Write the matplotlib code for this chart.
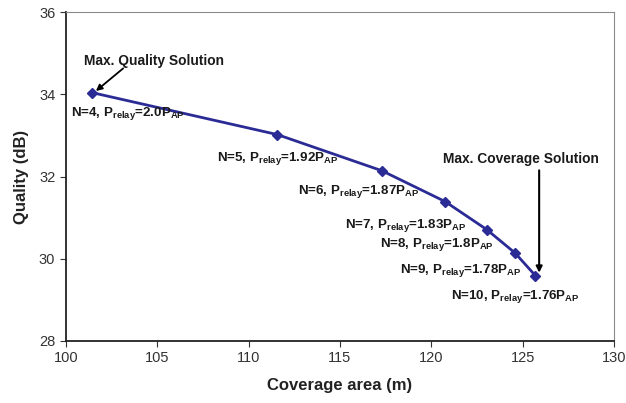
import numpy as np
import matplotlib.pyplot as plt

plt.rcParams['font.family'] = 'Liberation Sans'
plt.rcParams['mathtext.fontset'] = 'custom'
plt.rcParams['mathtext.rm'] = 'Liberation Sans:bold'
plt.rcParams['mathtext.default'] = 'rm'

# data
coverage = [101.45, 111.58, 117.3, 120.76, 123.03, 124.58, 125.69]
quality = [34.04, 33.02, 32.14, 31.39, 30.71, 30.14, 29.59]
n_relays = [4, 5, 6, 7, 8, 9, 10]
p_relay = ['2.0', '1.92', '1.87', '1.83', '1.8', '1.78', '1.76']

# label anchor (left edge, vertical centre) in data coords
lab_x = [100.3, 108.3, 112.7, 115.3, 117.2, 118.3, 121.1]
lab_y = [33.53, 32.44, 31.63, 30.82, 30.35, 29.72, 29.08]

fig = plt.figure(figsize=(6.26, 4.03), dpi=100)
ax = fig.add_axes([0.105, 0.154, 0.876, 0.816])

ax.plot(coverage, quality, color='#2b2b96', lw=2, marker='D', ms=5)

for n, p, x, y in zip(n_relays, p_relay, lab_x, lab_y):
	ax.text(x, y, 'N=%d, P$_{relay}$=%sP$_{AP}$' % (n, p), fontsize=9.6,
		fontweight='bold', va='center', ha='left', color='#1a1a1a')

# annotations: text and arrows placed separately
ax.text(104.85, 34.81, 'Max. Quality Solution', fontsize=9.9, fontweight='bold',
	color='#1a1a1a', ha='center', va='center')
ax.annotate('', xy=(101.65, 34.08), xytext=(103.14, 34.63),
	arrowprops=dict(arrowstyle='-|>', color='black', lw=1.3,
		shrinkA=0, shrinkB=0, mutation_scale=9))
ax.text(124.93, 32.42, 'Max. Coverage Solution', fontsize=9.9, fontweight='bold',
	color='#1a1a1a', ha='center', va='center')
ax.annotate('', xy=(125.9, 29.66), xytext=(125.9, 32.15),
	arrowprops=dict(arrowstyle='-|>', color='black', lw=1.5,
		shrinkA=0, shrinkB=0, mutation_scale=9))

ax.set_xlim(100, 130)
ax.set_ylim(28, 36)
ax.set_xticks(np.arange(100, 131, 5))
ax.set_yticks(np.arange(28, 37, 2))
ax.tick_params(direction='out', length=4, labelsize=10.5, colors='#333333')

for s in ['top', 'right']:
	ax.spines[s].set_color('#8a8a8a')
for s in ['left', 'bottom']:
	ax.spines[s].set_color('#222222')
	ax.spines[s].set_linewidth(1.3)

ax.set_xlabel('Coverage area (m)', fontsize=12, fontweight='bold', color='#222222', labelpad=9)
ax.set_ylabel('Quality (dB)', fontsize=12, fontweight='bold', color='#222222', labelpad=7)

plt.savefig('out.png', dpi=100)
